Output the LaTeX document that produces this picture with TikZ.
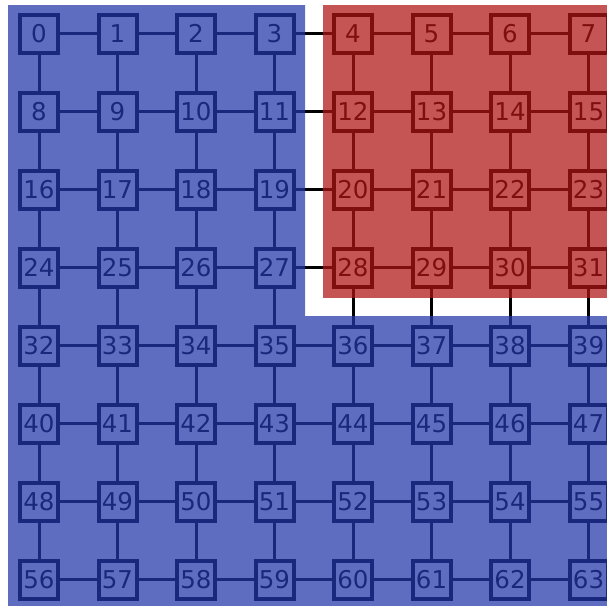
\documentclass[tikz,border=0pt]{standalone}
\usepackage{fontspec}
\setmainfont{DejaVu Sans}
\definecolor{gridblue}{RGB}{35,55,170}
\definecolor{gridred}{RGB}{175,20,20}

\begin{document}
\begin{tikzpicture}[x=1pt, y=-1pt,
  cell/.style={rectangle, draw=black, line width=4pt, minimum size=38pt, inner sep=0pt,
    font=\fontsize{24.5}{26}\selectfont},
  link/.style={black, line width=3pt},
  zone/.style={opacity=0.73}]
\useasboundingbox (0,0) rectangle (607,605);
\clip (0,0) rectangle (607,605);
\foreach \r in {0,...,7}
  \foreach \c in {0,...,7} {
    \pgfmathtruncatemacro{\k}{8*\r+\c}
    \node[cell] (c\k) at ({39+78.5*\c},{33.5+78*\r}) {\k};
  }
\foreach \r in {0,...,7}
  \foreach \c in {0,...,6} {
    \pgfmathtruncatemacro{\ka}{8*\r+\c}
    \pgfmathtruncatemacro{\kb}{\ka+1}
    \draw[link] (c\ka) -- (c\kb);
  }
\foreach \r in {0,...,6}
  \foreach \c in {0,...,7} {
    \pgfmathtruncatemacro{\ka}{8*\r+\c}
    \pgfmathtruncatemacro{\kb}{\ka+8}
    \draw[link] (c\ka) -- (c\kb);
  }
% coloured zones laid over the grid
\fill[gridblue, zone] (8,5) -- (305,5) -- (305,316) -- (620,316) -- (620,620) -- (8,620) -- cycle;
\fill[gridred, zone] (323,5) rectangle (620,298);
\end{tikzpicture}
\end{document}
